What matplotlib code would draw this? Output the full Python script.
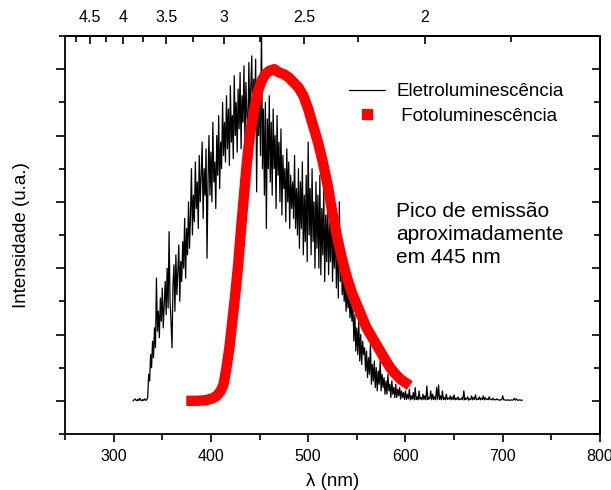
import numpy as np
import matplotlib
matplotlib.use('Agg')
import matplotlib.pyplot as plt
from matplotlib.lines import Line2D
from matplotlib.ticker import MultipleLocator, NullFormatter

plt.rcParams['font.family'] = ['Liberation Sans', 'DejaVu Sans']

# Eletroluminescencia, 1 nm step
el_x = np.arange(320, 721, 1)
el_y = [0, 0.003, 0.006, 0.002, 0, 0.005, 0.001, 0.008, 0.002, 0,
        0.004, 0.001, 0.006, 0.002, 0.003, 0.01, 0.08, 0.06, 0.14, 0.10,
        0.18, 0.13, 0.22, 0.16, 0.37, 0.21, 0.27, 0.19, 0.31, 0.24,
        0.34, 0.22, 0.29, 0.36, 0.26, 0.40, 0.28, 0.51, 0.30, 0.24,
        0.16, 0.35, 0.41, 0.27, 0.44, 0.32, 0.39, 0.47, 0.30, 0.42,
        0.36, 0.48, 0.40, 0.55, 0.37, 0.52, 0.44, 0.60, 0.46, 0.56,
        0.70, 0.50, 0.62, 0.54, 0.72, 0.58, 0.66, 0.52, 0.74, 0.60,
        0.68, 0.78, 0.55, 0.70, 0.62, 0.76, 0.43, 0.66, 0.80, 0.62,
        0.75, 0.60, 0.84, 0.66, 0.72, 0.58, 0.80, 0.68, 0.86, 0.64,
        0.78, 0.70, 0.90, 0.74, 0.84, 0.72, 0.92, 0.76, 0.88, 0.71,
        0.95, 0.78, 0.86, 0.73, 0.98, 0.80, 0.90, 0.75, 0.94, 0.82,
        0.99, 0.76, 0.92, 0.84, 1.01, 0.78, 0.96, 0.86, 0.80, 1.02,
        0.85, 0.94, 1.04, 0.82, 0.97, 0.88, 1.03, 0.63, 0.92, 0.80,
        0.96, 0.74, 1.15, 0.70, 0.88, 0.62, 0.90, 0.52, 0.85, 0.70,
        0.92, 0.66, 0.84, 0.62, 0.88, 0.70, 0.80, 0.58, 0.86, 0.68,
        0.78, 0.60, 0.82, 0.56, 0.74, 0.64, 0.70, 0.54, 0.76, 0.60,
        0.72, 0.52, 0.68, 0.58, 0.66, 0.55, 0.74, 0.52, 0.64, 0.50,
        0.70, 0.46, 0.66, 0.52, 0.72, 0.44, 0.62, 0.48, 0.68, 0.42,
        0.78, 0.50, 0.64, 0.44, 0.70, 0.48, 0.60, 0.40, 0.66, 0.46,
        0.62, 0.40, 0.68, 0.38, 0.58, 0.44, 0.64, 0.36, 0.56, 0.42,
        0.60, 0.38, 0.54, 0.42, 0.62, 0.36, 0.50, 0.40, 0.56, 0.34,
        0.52, 0.31, 0.60, 0.36, 0.44, 0.32, 0.38, 0.30, 0.36, 0.27,
        0.34, 0.28, 0.32, 0.25, 0.30, 0.24, 0.28, 0.18, 0.26, 0.15,
        0.22, 0.14, 0.24, 0.12, 0.20, 0.11, 0.18, 0.14, 0.16, 0.09,
        0.15, 0.07, 0.13, 0.08, 0.17, 0.05, 0.11, 0.06, 0.12, 0.04,
        0.10, 0.03, 0.09, 0.05, 0.12, 0.03, 0.08, 0.04, 0.07, 0.02,
        0.06, 0.02, 0.08, 0.03, 0.05, 0.01, 0.06, 0.02, 0.04, 0.01,
        0.05, 0.01, 0.035, 0.015, 0.04, 0.005, 0.03, 0.01, 0.025, 0.004,
        0.03, 0.004, 0.02, 0.006, 0.035, 0.003, 0.015, 0.005, 0.025, 0.003,
        0.04, 0.004, 0.012, 0.003, 0.03, 0.005, 0.01, 0.003, 0.02, 0.004,
        0.015, 0.003, 0.045, 0.004, 0.01, 0.006, 0.03, 0.003, 0.02, 0.004,
        0.012, 0.003, 0.04, 0.005, 0.048, 0.004, 0.015, 0.003, 0.03, 0.004,
        0.01, 0.003, 0.02, 0.004, 0.008, 0.005, 0.015, 0.003, 0.012, 0.004,
        0.018, 0.003, 0.008, 0.004, 0.012, 0.003, 0.006, 0.004, 0.01, 0.003,
        0.03, 0.003, 0.008, 0.005, 0.012, 0.002, 0.006, 0.004, 0.015, 0.003,
        0.01, 0.004, 0.018, 0.003, 0.006, 0.004, 0.012, 0.003, 0.008, 0.004,
        0.015, 0.003, 0.01, 0.004, 0.006, 0.003, 0.012, 0.004, 0.005, 0.003,
        0.008, 0.003, 0.004, 0.003, 0.006, 0.003, 0.003, 0.002, 0.003, 0.004,
        0.015, 0.003, 0.003, 0.002, 0.002, 0.003, 0.002, 0.002, 0.002, 0.003,
        0.002, 0.003, 0.008, 0.002, 0.006, 0.002, 0.002, 0.003, 0.002, 0.002,
        0.002]

# Fotoluminescencia
pl_x = [380, 385, 395, 402, 406, 410, 413, 416, 419, 422, 425, 428, 431, 434,
        437, 440, 444, 448, 452, 456, 460, 465, 470, 475, 480, 485, 490, 495,
        500, 505, 510, 515, 520, 525, 530, 535, 540, 545, 550, 555, 560, 565,
        570, 575, 580, 585, 590, 595, 600]
pl_y = [0.0, 0.0, 0.002, 0.008, 0.015, 0.03, 0.05, 0.10, 0.16, 0.24, 0.32, 0.41,
        0.52, 0.62, 0.72, 0.80, 0.87, 0.93, 0.965, 0.985, 0.995, 1.0, 0.99,
        0.985, 0.975, 0.96, 0.945, 0.92, 0.88, 0.83, 0.78, 0.72, 0.65, 0.565,
        0.49, 0.425, 0.37, 0.325, 0.29, 0.255, 0.22, 0.195, 0.17, 0.145, 0.12,
        0.097, 0.08, 0.065, 0.055]

ev_major = [4.5, 4, 3.5, 3, 2.5, 2]
ev_labels = ['4.5', '4', '3.5', '3', '2.5', '2']
ev_minor = [4.75, 4.25, 3.75, 3.25, 2.75, 2.25, 1.75]

fig = plt.figure(figsize=(6.11, 4.9), dpi=100)
ax = fig.add_axes([65/611, 1-434/490, 535/611, 398/490])

ax.plot(el_x, el_y, color='black', lw=0.9)
ax.plot(pl_x, pl_y, color='red', lw=7.5, solid_capstyle='projecting',
        solid_joinstyle='round')

ax.set_xlim(250, 800)
ax.set_ylim(-0.1, 1.1)
ax.xaxis.set_major_locator(MultipleLocator(100))
ax.xaxis.set_minor_locator(MultipleLocator(50))
ax.yaxis.set_major_locator(MultipleLocator(0.2))
ax.yaxis.set_minor_locator(MultipleLocator(0.1))
ax.yaxis.set_major_formatter(NullFormatter())
for s in ax.spines.values():
    s.set_linewidth(1.3)
ax.tick_params(axis='x', which='major', direction='out', length=6, width=1.2,
               labelsize=11.5, pad=5)
ax.tick_params(axis='x', which='minor', direction='out', length=4, width=1.2)
ax.tick_params(axis='y', which='major', direction='out', length=6.5, width=1.2)
ax.tick_params(axis='y', which='minor', direction='out', length=4, width=1.2)

# right axis: inward ticks, no labels
ay = ax.secondary_yaxis('right')
ay.yaxis.set_major_locator(MultipleLocator(0.2))
ay.yaxis.set_minor_locator(MultipleLocator(0.1))
ay.yaxis.set_major_formatter(NullFormatter())
ay.tick_params(which='major', direction='in', length=6, width=1.2)
ay.tick_params(which='minor', direction='in', length=4, width=1.2)
ay.spines['right'].set_linewidth(1.3)

# top axis in eV
ax2 = ax.secondary_xaxis('top', functions=(lambda x: 1240/x, lambda e: 1240/e))
ax2.set_xticks(ev_major)
ax2.set_xticklabels(ev_labels)
ax2.set_xticks(ev_minor, minor=True)
ax2.tick_params(which='major', direction='in', length=6, width=1.2,
                labelsize=11.5, pad=8)
ax2.tick_params(which='minor', direction='in', length=4, width=1.2)
ax2.spines['top'].set_linewidth(1.3)

ax.set_xlabel('λ (nm)', fontsize=13.5, labelpad=6)
ax.set_ylabel('Intensidade (u.a.)', fontsize=13.5, labelpad=15)

handles = [Line2D([], [], color='black', lw=0.9),
           Line2D([], [], color='red', ls='none', marker='s', ms=6.5)]
ax.legend(handles, ['Eletroluminescência', ' Fotoluminescência'],
          loc='upper left', bbox_to_anchor=(0.531, 0.882), frameon=False,
          fontsize=13.5, handlelength=1.92, handletextpad=0.59,
          labelspacing=0.41, borderpad=0, borderaxespad=0)

ax.text(590, 0.60, 'Pico de emissão\naproximadamente\nem 445 nm',
        fontsize=15, va='top', ha='left', linespacing=1.26)

fig.savefig('out.png', dpi=100)
